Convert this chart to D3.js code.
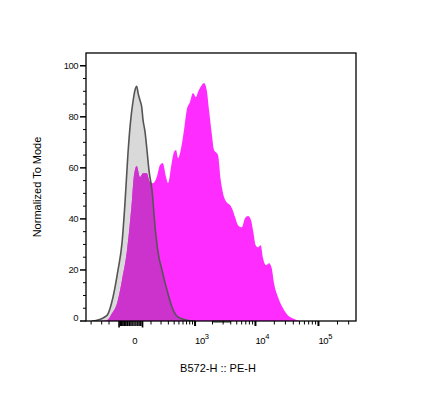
<!DOCTYPE html>
<html>
<head>
<meta charset="utf-8">
<script src="https://cdn.jsdelivr.net/npm/d3@7"></script>
<style>
  body { margin: 0; background: #fff; }
  svg { font-family: "Liberation Sans", Arial, sans-serif; }
</style>
</head>
<body>
<div id="chart"></div>
<script>
// control (unstained) histogram: intensity and % of mode
const ctrlIntensity = [-480, -379, -225, -156, -109, -77, -56, -37, -20, -10, 0, 8, 15, 25, 35, 43, 56, 69, 84, 109, 136, 166, 212, 280, 361, 480, 715, 998];
const ctrlPct       = [0, 0.3, 2.2, 9.3, 19.9, 30.5, 46.2, 65.8, 79.9, 85.8, 90.5, 92, 89.3, 86.5, 83.8, 78.7, 74, 67, 59, 51, 37, 27, 19.9, 12, 5.4, 1.5, 0.3, 0];

// PE stained histogram
const peIntensity = [-326, -225, -166, -117, -77, -43, -15, -5, 8, 25, 43, 67, 92, 117, 153, 188, 221, 265, 295, 355, 397, 437, 480, 542, 627, 705, 811, 920, 1040, 1128, 1309, 1434, 1595, 1746, 1939, 2120, 2350, 2470, 2738, 2988, 3438, 3891, 4306, 4695, 5246, 6020, 6807, 7608, 8500, 9150, 10110, 11000, 12140, 13220, 14760, 16470, 18180, 19780, 22900, 27500, 33000, 39570, 51100];
const pePct       = [0, 0.3, 3, 7, 16, 27.7, 47.3, 57, 60.7, 56.4, 57.9, 57.9, 54.4, 54, 56.4, 61.1, 61.9, 56.4, 54, 61.9, 66.2, 67, 63.8, 67, 74.8, 82.6, 85.8, 89.3, 87.7, 89.7, 92.4, 93.2, 90.5, 82.6, 73.6, 67, 65.8, 65, 55.2, 50.1, 46.5, 45.4, 43.4, 40.7, 37.5, 36.7, 40.3, 41.1, 39.5, 35.6, 29.7, 28.9, 29.7, 24.6, 21.8, 22.6, 20.7, 14.8, 9.3, 5, 2.2, 1, 0];

const yTicks = [0, 20, 40, 60, 80, 100];
const xMajor = [1e3, 1e4, 1e5];
const xMajorExp = ['3', '4', '5'];
const xMinor = [-500, -300, -200, 100, 200, 300, 400, 500, 600, 700, 800, 900,
  2000, 3000, 4000, 5000, 6000, 7000, 8000, 9000,
  20000, 30000, 40000, 50000, 60000, 70000, 80000, 90000, 200000, 300000];
const xNearZero = [-100, -90, -80, -70, -60, -50, -40, -30, -20, -10, 0, 10, 20, 30, 40];
const axisMark = [2000, 4000];

const W = 422, H = 410;
const plot = { left: 86, right: 356, top: 53, bottom: 321 };

const svg = d3.select('#chart').append('svg')
  .attr('width', W).attr('height', H);

const x = d3.scaleSymlog().constant(127)
  .domain([-628, 392000])
  .range([plot.left, plot.right]);
const y = d3.scaleLinear()
  .domain([0, 105])
  .range([plot.bottom, plot.top]);

const ctrl = ctrlIntensity.map((v, i) => [v, ctrlPct[i]]);
const pe = peIntensity.map((v, i) => [v, pePct[i]]);

const area = d3.area().curve(d3.curveMonotoneX)
  .x(d => x(d[0])).y0(y(0)).y1(d => y(d[1]));
const line = d3.line().curve(d3.curveMonotoneX)
  .x(d => x(d[0])).y(d => y(d[1]));

// clip for the overlap of the two fills
svg.append('clipPath').attr('id', 'ctrlClip')
  .append('path').attr('d', area(ctrl));
svg.append('clipPath').attr('id', 'plotClip')
  .append('rect')
  .attr('x', plot.left).attr('y', plot.top)
  .attr('width', plot.right - plot.left).attr('height', plot.bottom - plot.top);

const g = svg.append('g').attr('clip-path', 'url(#plotClip)');

g.append('path').attr('d', area(ctrl)).attr('fill', '#d9d9d9');
g.append('path').attr('d', area(pe)).attr('fill', '#ff2cff');
g.append('path').attr('d', area(pe)).attr('fill', '#cc33cc')
  .attr('clip-path', 'url(#ctrlClip)');
g.append('path').attr('d', line(ctrl))
  .attr('fill', 'none').attr('stroke', '#555').attr('stroke-width', 1.6);

// frame
svg.append('rect')
  .attr('x', plot.left).attr('y', plot.top)
  .attr('width', plot.right - plot.left).attr('height', plot.bottom - plot.top)
  .attr('fill', 'none').attr('stroke', '#000').attr('stroke-width', 1.3);

// y axis
const yMinor = d3.range(5, 105, 5).filter(d => d % 20 !== 0);
svg.selectAll('.ymin').data(yMinor).enter().append('line')
  .attr('x1', plot.left - 3).attr('x2', plot.left)
  .attr('y1', d => y(d)).attr('y2', d => y(d))
  .attr('stroke', '#000');
svg.selectAll('.ymaj').data(yTicks).enter().append('line')
  .attr('x1', plot.left - 6).attr('x2', plot.left)
  .attr('y1', d => y(d)).attr('y2', d => y(d))
  .attr('stroke', '#000').attr('stroke-width', 1.5);
svg.selectAll('.ylab').data(yTicks).enter().append('text')
  .attr('x', plot.left - 8).attr('y', d => y(d) - (d === 0 ? 3 : 0))
  .attr('dy', '0.35em')
  .attr('text-anchor', 'end')
  .attr('font-size', 9.5)
  .attr('letter-spacing', -0.5)
  .attr('fill', '#111')
  .text(d => d);

// x axis
svg.append('line')
  .attr('x1', x(axisMark[0])).attr('x2', x(axisMark[1]))
  .attr('y1', plot.bottom + 0.5).attr('y2', plot.bottom + 0.5)
  .attr('stroke', '#222').attr('stroke-width', 2);
svg.selectAll('.xmin').data(xMinor).enter().append('line')
  .attr('x1', d => x(d)).attr('x2', d => x(d))
  .attr('y1', plot.bottom).attr('y2', plot.bottom + 3.5)
  .attr('stroke', '#000');
svg.selectAll('.xzero').data(xNearZero).enter().append('line')
  .attr('x1', d => x(d)).attr('x2', d => x(d))
  .attr('y1', plot.bottom).attr('y2', (d, i) => plot.bottom + (i === 0 || i === xNearZero.length - 1 ? 6.5 : 5))
  .attr('stroke', '#000').attr('stroke-width', 1.6);
svg.selectAll('.xmaj').data(xMajor).enter().append('line')
  .attr('x1', d => x(d)).attr('x2', d => x(d))
  .attr('y1', plot.bottom).attr('y2', plot.bottom + 5)
  .attr('stroke', '#000').attr('stroke-width', 2);

svg.append('text')
  .attr('x', x(0)).attr('y', 344)
  .attr('text-anchor', 'middle').attr('font-size', 9.5)
  .text('0');
xMajor.forEach((v, i) => {
  const t = svg.append('text')
    .attr('x', x(v)).attr('y', 344)
    .attr('font-size', 9.5).attr('letter-spacing', -0.4);
  t.append('tspan').text('10');
  t.append('tspan').attr('dy', -5).attr('font-size', 7.5).text(xMajorExp[i]);
});

// axis titles
svg.append('text')
  .attr('x', 218).attr('y', 372)
  .attr('text-anchor', 'middle').attr('font-size', 11)
  .text('B572-H :: PE-H');
svg.append('text')
  .attr('transform', `translate(41,${(plot.top + plot.bottom) / 2}) rotate(-90)`)
  .attr('text-anchor', 'middle').attr('font-size', 11)
  .text('Normalized To Mode');
</script>
</body>
</html>
